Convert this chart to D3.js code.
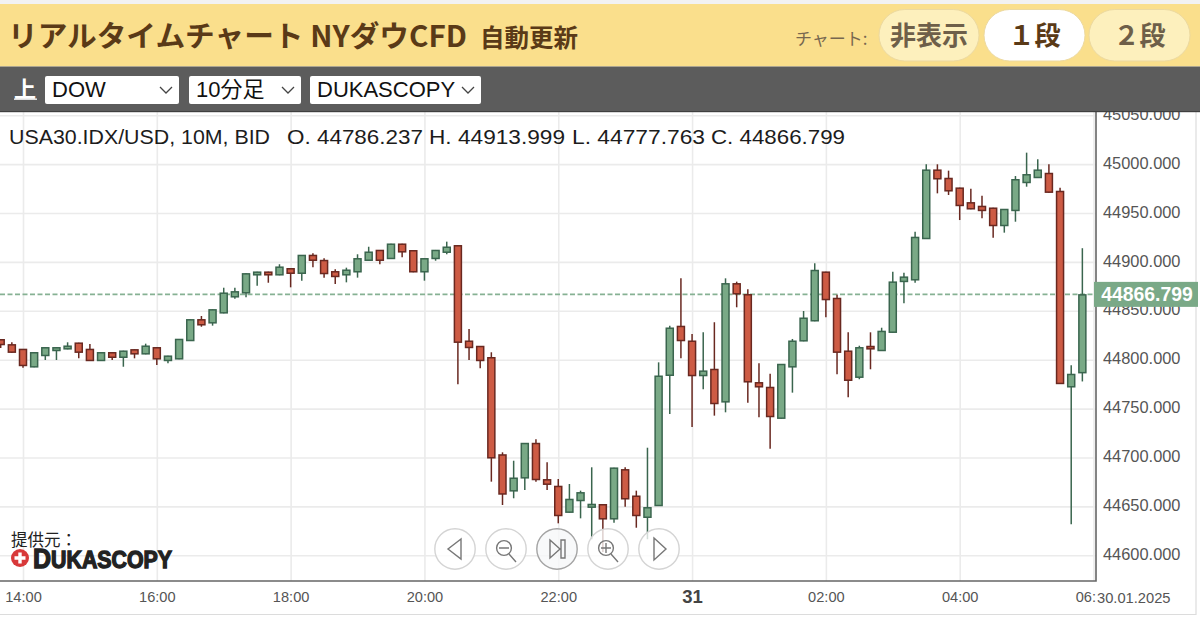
<!DOCTYPE html>
<html>
<head>
  <meta charset="utf-8">
  <script src="https://d3js.org/d3.v7.min.js"></script>
  <style>
    body {
      margin: 0;
      background: #fff;
      overflow: hidden;
    }
    svg {
      display: block;
      font-family: "Liberation Sans", Arial, sans-serif;
    }
    .jp {
      font-family: "Noto Sans CJK JP", "Liberation Sans", sans-serif;
    }
  </style>
</head>
<body>
  <svg width="1200" height="618"></svg>
  <script>
    // bars are 10 minutes apart, first one at 13:40
    const firstBarHour = 13 + 40 / 60;
    const opens = [44820.9, 44815.7, 44811, 44792.2, 44803.8, 44808.9, 44810.6, 44817.4, 44811, 44798.7, 44807.6, 44802,
      44810.6, 44805.5, 44812.7, 44798.7, 44800.4, 44819.1, 44841.3, 44837.2, 44847.4, 44863.8, 44867.9, 44886.3,
      44890, 44886.3, 44893.5, 44887.9, 44907.1, 44901.9, 44890.4, 44886.3, 44889.4, 44901.2, 44912.2, 44903,
      44918.6, 44911.9, 44889.4, 44903, 44909.4, 44917, 44819.4, 44814, 44802.5, 44703.1, 44665.4, 44678.7,
      44714.8, 44677.7, 44670.9, 44643.6, 44655.5, 44648.7, 44652.2, 44636.8, 44687.9, 44660.9, 44638.4, 44650.4,
      44783.6, 44834.5, 44819.4, 44783.3, 44790.5, 44756.4, 44878.1, 44866.9, 44776.9, 44772.1, 44739.7, 44792.2,
      44818.8, 44839.3, 44890, 44863.1, 44809.2, 44781.6, 44814, 44808.9, 44827.6, 44879.5, 44881.2, 44923.4,
      44994.3, 44985.8, 44975.9, 44960.9, 44957.2, 44955.4, 44936.7, 44952.1, 44980.7, 44985.8, 44990.9, 44972.5,
      44771.8, 44786.237];
    const highs = [44820.9, 44817.8, 44811, 44807.6, 44812.7, 44812.7, 44817.8, 44817.4, 44816.1, 44807.6, 44807.6, 44809.2,
      44810.6, 44816.4, 44812.7, 44804.1, 44821.2, 44841.3, 44844.7, 44851.5, 44873.6, 44873.6, 44888.3, 44890,
      44890, 44897.6, 44893.5, 44907.1, 44908.8, 44903.7, 44892.4, 44894.1, 44907.8, 44915.5, 44912.2, 44918.6,
      44918.6, 44911.9, 44903.7, 44912.2, 44920.7, 44917, 44831.4, 44814, 44807.6, 44705.3, 44696.7, 44714.8,
      44718.6, 44695.1, 44678, 44672.9, 44666.1, 44690, 44652.2, 44689.6, 44690, 44666.1, 44710, 44797.3,
      44834.8, 44883.2, 44826.3, 44828, 44838.3, 44883.2, 44879.8, 44872, 44796.3, 44785.7, 44795.6, 44821.2,
      44849.8, 44898.6, 44890, 44866.5, 44828, 44814.3, 44828, 44832.7, 44890, 44889, 44930.9, 44999.8,
      44999.8, 44993.3, 44975.9, 44974.9, 44967.7, 44955.4, 44954.1, 44987.8, 45011.7, 45004.9, 44999.8, 44975.9,
      44794.3, 44913.999];
    const lows = [44812, 44807.2, 44791.8, 44792.2, 44799.7, 44799.7, 44810.6, 44801.4, 44798.7, 44798.7, 44799.7, 44792.8,
      44801.4, 44805.5, 44794.6, 44796.3, 44800.4, 44819.1, 44833.7, 44834.8, 44847.4, 44862.4, 44863.8, 44875.7,
      44878.7, 44886.3, 44874, 44880.8, 44894.5, 44883.9, 44877.4, 44879.1, 44883.9, 44901.2, 44897.6, 44903,
      44904.7, 44889.4, 44880.8, 44901.2, 44907.8, 44774.8, 44799.7, 44791.2, 44675.3, 44651.4, 44658.3, 44666.8,
      44675.3, 44666.8, 44632.7, 44643.6, 44637.8, 44616.4, 44603.4, 44633.3, 44649.7, 44628.2, 44616.4, 44650.4,
      44744.5, 44801.4, 44731.2, 44769.7, 44742.8, 44746.2, 44853.6, 44756, 44741.1, 44709, 44739.7, 44766.3,
      44818.8, 44839.3, 44843.4, 44785.1, 44761.6, 44780, 44790.2, 44808.9, 44827.6, 44857.7, 44878.7, 44923.4,
      44970.1, 44968.4, 44942.8, 44953.8, 44944.6, 44924.8, 44929.9, 44941.1, 44976.9, 44985.8, 44970.8, 44775.2,
      44631.7, 44777.763];
    const closes = [44815, 44807.2, 44793.6, 44807.6, 44812.7, 44812.7, 44814.3, 44807.2, 44798.7, 44807.6, 44802, 44809.2,
      44805.5, 44814.3, 44800.4, 44804.1, 44821.2, 44841.3, 44835.2, 44851.5, 44868.5, 44869.9, 44888.3, 44890,
      44886.3, 44895.1, 44887.9, 44907.1, 44901.2, 44887.6, 44884.6, 44892, 44903.7, 44910.4, 44901.2, 44918.6,
      44909.8, 44889.4, 44903.7, 44912.2, 44915.5, 44817.4, 44812, 44798.7, 44699.2, 44662.2, 44679.3, 44714.8,
      44677, 44672.2, 44640.2, 44657.6, 44664.4, 44652.5, 44636.8, 44689.6, 44657.3, 44640.2, 44649.1, 44783.6,
      44832.7, 44819.1, 44783.3, 44788.8, 44754.7, 44878.1, 44866.9, 44776.9, 44771.8, 44741.4, 44795.6, 44819.4,
      44842.9, 44891.7, 44861, 44807.2, 44778.5, 44812.7, 44810.6, 44829.4, 44879.8, 44884.9, 44925.5, 44994.3,
      44984.5, 44972.2, 44957.2, 44953.8, 44952.1, 44936.7, 44954.1, 44984.5, 44989.6, 44994.3, 44970.8, 44775.2,
      44785.4, 44866.799];

    const lastPrice = 44866.799;
    const priceTicks = [44600, 44650, 44700, 44750, 44800, 44850, 44900, 44950, 45000, 45050];
    const tickHours = [14, 16, 18, 20, 22, 24, 26, 28, 30];
    const tickLabels = ['14:00', '16:00', '18:00', '20:00', '22:00', '31', '02:00', '04:00', '06:'];
    const dateLabel = '30.01.2025';
    const infoParts = [
      { text: 'USA30.IDX/USD, 10M, BID', x: 9, w: 261 },
      { text: 'O. 44786.237', x: 287, w: 136 },
      { text: 'H. 44913.999', x: 429, w: 136 },
      { text: 'L. 44777.763', x: 572, w: 133 },
      { text: 'C. 44866.799', x: 711, w: 134 }
    ];

    const plotRight = 1096;
    const plotTop = 112;
    const plotBottom = 581;

    const svg = d3.select('svg');

    const x = d3.scaleLinear().domain([14, 28]).range([23, 959.7]);
    const y = d3.scaleLinear().domain([44600, 45050]).range([555.3, 115.2]);

    svg.append('clipPath').attr('id', 'plot')
      .append('rect').attr('width', plotRight).attr('y', plotTop).attr('height', plotBottom - plotTop);

    // grid
    const grid = svg.append('g').attr('clip-path', 'url(#plot)');
    grid.append('g')
      .attr('transform', `translate(${plotRight},0)`)
      .call(d3.axisLeft(y).tickValues(priceTicks).tickSize(plotRight).tickFormat(''));
    grid.append('g')
      .attr('transform', `translate(0,${plotBottom})`)
      .call(d3.axisTop(x).tickValues(tickHours).tickSize(plotBottom - plotTop).tickFormat(''));
    grid.selectAll('.domain').remove();
    grid.selectAll('line').attr('stroke', '#ebebeb').attr('stroke-width', 1.6);

    // last price line
    grid.append('line')
      .attr('x1', 0).attr('x2', plotRight)
      .attr('y1', y(lastPrice)).attr('y2', y(lastPrice))
      .attr('stroke', '#86b193').attr('stroke-width', 1.6).attr('stroke-dasharray', '5 2.5');

    // candles
    const bars = opens.map((o, i) => ({ hour: firstBarHour + i / 6, o, h: highs[i], l: lows[i], c: closes[i] }));
    const candle = grid.append('g').selectAll('g').data(bars).enter().append('g')
      .attr('transform', d => `translate(${x(d.hour)},0)`);
    const edge = d => d.c >= d.o ? '#3a654e' : '#692820';
    candle.append('line')
      .attr('y1', d => y(d.h)).attr('y2', d => y(d.l))
      .attr('stroke', edge).attr('stroke-width', 1.5);
    candle.append('rect')
      .attr('x', -3.5).attr('width', 7)
      .attr('y', d => y(Math.max(d.o, d.c)) + 0.5)
      .attr('height', d => Math.max(1, Math.abs(y(d.o) - y(d.c)) - 1))
      .attr('fill', d => d.c >= d.o ? '#79a986' : '#cd5b44')
      .attr('stroke', edge).attr('stroke-width', 1.5);

    // source logo
    const logo = svg.append('g');
    logo.append('text').attr('class', 'jp').attr('x', 11).attr('y', 546)
      .attr('font-size', 16.5).attr('fill', '#222').text('提供元：');
    logo.append('circle').attr('cx', 20).attr('cy', 558).attr('r', 9).attr('fill', '#d8393a');
    logo.append('path').attr('d', 'M20 552.5V563.5M14.5 558H25.5').attr('stroke', '#fff').attr('stroke-width', 3.4);
    const logoText = logo.append('text').attr('x', 33).attr('y', 568)
      .attr('font-weight', 700).attr('fill', '#222').attr('stroke', '#222').attr('stroke-width', 1.3)
      .attr('textLength', 139).attr('lengthAdjust', 'spacingAndGlyphs');
    logoText.append('tspan').attr('font-size', 27).text('D');
    logoText.append('tspan').attr('font-size', 23).text('UKASCOPY');

    // navigation buttons
    const buttonX = [455, 506, 557, 608, 659];
    const buttonIcons = [
      'M6 -10L-7 0L6 10Z', 'M3 5L10 13M-7 -1H3',
      'M-7 -9L3 0L-7 9ZM4 -9H8V9H4Z', 'M3 5L10 13M-7 -1H3M-2 -6V4', 'M-5 -11L7 0L-5 11Z'
    ];
    const buttons = svg.append('g').selectAll('g').data(buttonX).enter().append('g')
      .attr('transform', d => `translate(${d},549)`);
    buttons.append('circle').attr('r', 20.2)
      .attr('fill', (d, i) => i === 2 ? '#f6f7f9' : '#fff').attr('fill-opacity', 0.78)
      .attr('stroke', (d, i) => i === 2 ? '#a4a4a4' : '#d4d4d4').attr('stroke-width', 1.4);
    buttons.append('path').attr('d', (d, i) => buttonIcons[i])
      .attr('fill', 'none').attr('stroke', '#777').attr('stroke-width', 1.4);
    buttons.filter((d, i) => i === 1 || i === 3).append('circle')
      .attr('cx', -2).attr('cy', -1).attr('r', 7.4)
      .attr('fill', 'none').attr('stroke', '#777').attr('stroke-width', 1.4);

    // axes
    const yAxis = svg.append('g')
      .attr('transform', `translate(${plotRight},0)`)
      .call(d3.axisRight(y).tickValues(priceTicks).tickSize(0).tickPadding(7).tickFormat(d3.format('.3f')));
    yAxis.select('.domain').remove();
    yAxis.selectAll('text').attr('font-size', 16.4).attr('fill', '#555')
      .attr('font-family', '"Liberation Sans", Arial, sans-serif').attr('dy', '0.25em');

    const xAxis = svg.append('g')
      .attr('transform', `translate(0,${plotBottom})`)
      .call(d3.axisBottom(x).tickValues(tickHours).tickSize(0).tickPadding(11)
        .tickFormat((d, i) => tickLabels[i]));
    xAxis.select('.domain').remove();
    xAxis.selectAll('text').attr('font-size', 14.6).attr('fill', '#555')
      .attr('font-family', '"Liberation Sans", Arial, sans-serif');
    xAxis.selectAll('.tick').filter(d => d === 24).select('text')
      .attr('font-size', 18.5).attr('font-weight', 700).attr('fill', '#444').attr('dy', '0.62em');
    // the last label is cut off by the date in the corner
    xAxis.selectAll('.tick').filter(d => d === 30).select('text')
      .attr('text-anchor', 'end').attr('dx', 2);

    svg.append('text').attr('x', 1097).attr('y', 603)
      .attr('font-size', 14.7).attr('fill', '#555').text(dateLabel);

    // plot borders
    svg.append('path').attr('d', `M0 ${plotBottom}H${plotRight}V${plotTop}`)
      .attr('fill', 'none').attr('stroke', '#666').attr('stroke-width', 1.6);
    svg.append('path').attr('d', 'M0 614.5H1196V112')
      .attr('fill', 'none').attr('stroke', '#dcdcdc').attr('stroke-width', 1.2);

    // last price label
    svg.append('rect').attr('x', 1094).attr('y', y(lastPrice) - 12.5).attr('width', 104).attr('height', 25)
      .attr('fill', '#7aa987');
    svg.append('text').attr('x', 1147).attr('y', y(lastPrice) + 6.8).attr('text-anchor', 'middle')
      .attr('font-size', 19.4).attr('font-weight', 700).attr('fill', '#fff').text(d3.format('.3f')(lastPrice));

    svg.append('g').selectAll('text').data(infoParts).enter().append('text')
      .attr('x', d => d.x).attr('y', 144)
      .attr('font-size', 21).attr('fill', '#1c1c1c')
      .attr('textLength', d => d.w).attr('lengthAdjust', 'spacingAndGlyphs')
      .text(d => d.text);

    // page header
    svg.append('rect').attr('width', 1200).attr('height', 4).attr('fill', '#f2f2f2');
    svg.append('rect').attr('y', 4).attr('width', 1200).attr('height', 62.5).attr('fill', '#fadf8c');
    svg.append('rect').attr('y', 66.5).attr('width', 1200).attr('height', 45).attr('fill', '#5c5c5c');
    svg.append('rect').attr('y', 111).attr('width', 1200).attr('height', 1.2).attr('fill', '#3f3f3f');

    const header = svg.append('g').attr('class', 'jp');
    header.append('text').attr('x', 8).attr('y', 47)
      .attr('font-size', 29).attr('font-weight', 700).attr('fill', '#5a3a17')
      .attr('textLength', 459).attr('lengthAdjust', 'spacingAndGlyphs').text('リアルタイムチャート NYダウCFD');
    header.append('text').attr('x', 480).attr('y', 47)
      .attr('font-size', 24.5).attr('font-weight', 700).attr('fill', '#5a3a17').text('自動更新');
    header.append('text').attr('x', 795).attr('y', 45)
      .attr('font-size', 17).attr('fill', '#77674f').text('チャート:');

    const tabs = [
      { label: '非表示', x: 879, w: 100, on: false },
      { label: '１段', x: 984, w: 101, on: true },
      { label: '２段', x: 1089, w: 101, on: false }
    ];
    const tab = header.selectAll('g.tab').data(tabs).enter().append('g').attr('class', 'tab');
    tab.append('rect')
      .attr('x', d => d.x).attr('y', 9.5).attr('width', d => d.w).attr('height', 51.5).attr('rx', 25.7)
      .attr('fill', d => d.on ? '#fff' : '#fdf0bd').attr('stroke', '#ecd9a0');
    tab.append('text')
      .attr('x', d => d.x + d.w / 2).attr('y', 45).attr('text-anchor', 'middle')
      .attr('font-size', 26).attr('font-weight', 700)
      .attr('fill', d => d.on ? '#5a3a17' : '#6e5f49').text(d => d.label);

    // selects
    const selects = [
      { label: 'DOW', x: 45, w: 134 },
      { label: '10分足', x: 189, w: 112 },
      { label: 'DUKASCOPY', x: 310, w: 171 }
    ];
    header.append('text').attr('x', 14).attr('y', 97)
      .attr('font-size', 22).attr('font-weight', 700).attr('fill', '#fff').text('上');
    header.append('rect').attr('x', 14).attr('y', 98.5).attr('width', 23).attr('height', 1.3).attr('fill', '#fff');
    const sel = header.selectAll('g.sel').data(selects).enter().append('g').attr('class', 'sel');
    sel.append('rect')
      .attr('x', d => d.x).attr('y', 76).attr('width', d => d.w).attr('height', 28).attr('rx', 2).attr('fill', '#fff');
    sel.append('text')
      .attr('x', d => d.x + 7).attr('y', 97).attr('font-size', 22).attr('fill', '#111')
      .style('font-family', '"Liberation Sans", "Noto Sans CJK JP", sans-serif').text(d => d.label);
    sel.append('path')
      .attr('d', d => { const c = d.x + d.w - 13; return `M${c - 6} 87L${c} 93L${c + 6} 87`; })
      .attr('fill', 'none').attr('stroke', '#444').attr('stroke-width', 1.3);
  </script>
</body>
</html>
